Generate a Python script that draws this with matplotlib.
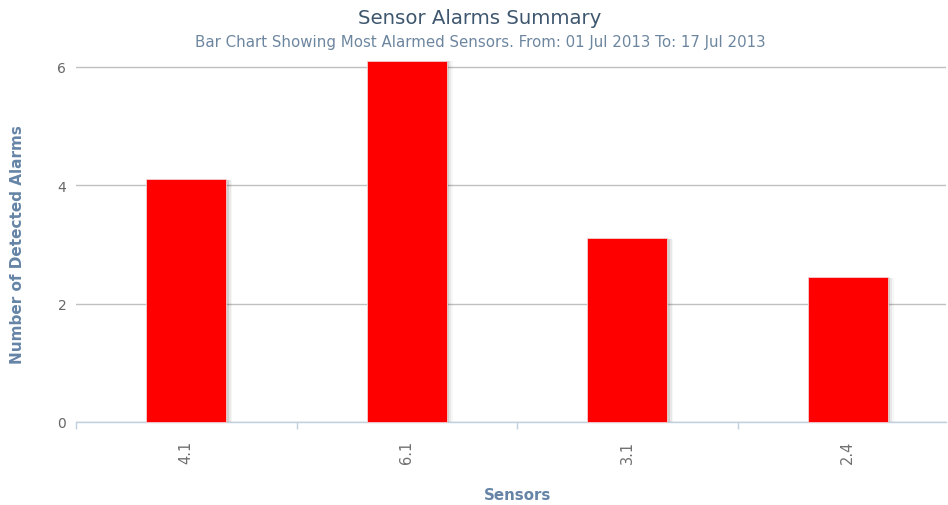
import matplotlib
matplotlib.use("Agg")
import matplotlib.pyplot as plt
import numpy as np

# data
sensors = ["4.1", "6.1", "3.1", "2.4"]
alarms = [4.1, 6.1, 3.1, 2.45]
y_ticks = [0, 2, 4, 6]

title = "Sensor Alarms Summary"
subtitle = "Bar Chart Showing Most Alarmed Sensors. From: 01 Jul 2013 To: 17 Jul 2013"

W, H = 948, 506
plt.rcParams["font.family"] = ["DejaVu Sans"]
fig = plt.figure(figsize=(W / 100, H / 100), dpi=100)

# plot area in pixels: left 76, right 946, top 60, bottom 423
left, right, top, bottom = 76, 946, 60, 423
ax = fig.add_axes([left / W, 1 - bottom / H, (right - left) / W, (bottom - top) / H])

unit = 59.2  # px per alarm
cat_w = 220.5  # px per category
x = np.arange(len(sensors))
bar_w = 80 / cat_w

# soft shadow behind bars
for dx, a in [(0.012, 0.10), (0.020, 0.06), (0.028, 0.03)]:
    ax.bar(x + dx, np.array(alarms) - 0.01, width=bar_w, bottom=0,
           color="black", alpha=a, linewidth=0, zorder=2, clip_on=False)
ax.bar(x, alarms, width=bar_w, color="#ff0000", edgecolor="#f3d0d0",
       linewidth=0.6, zorder=3, clip_on=False)

ax.set_yticks(y_ticks)
ax.set_yticklabels([str(v) for v in y_ticks])
ax.yaxis.grid(True, color="#c0c0c0", linewidth=1)
ax.set_axisbelow(True)
ax.tick_params(axis="y", length=0, pad=7, labelsize=10, labelcolor="#666666")

ax.set_xticks(x)
ax.set_xticklabels(sensors, rotation=90)
ax.tick_params(axis="x", length=0, pad=13, labelsize=10.5, labelcolor="#707070")
# category boundary ticks
ax.set_xticks(np.arange(len(sensors) + 1) - 0.5, minor=True)
ax.tick_params(axis="x", which="minor", length=5, color="#c0d0e0", width=1)

# limits after ticks so the tick setters don't widen the view
ax.set_xlim(-0.5, -0.5 + (right - left) / cat_w)
ax.set_ylim(0, (bottom - top) / unit)

for s in ["top", "right", "left"]:
    ax.spines[s].set_visible(False)
ax.spines["bottom"].set_color("#c0d0e0")
ax.spines["bottom"].set_linewidth(1)

fig.text(518 / W, 1 - 496 / H, "Sensors", ha="center", va="center",
         fontsize=10.8, fontweight="bold", color="#6584a6")
fig.text(18 / W, 1 - 245 / H, "Number of Detected Alarms", ha="center", va="center",
         rotation=90, fontsize=11, fontweight="bold", color="#6584a6")

fig.text(480 / W, 1 - 19 / H, title, ha="center", va="center", fontsize=14.2,
         color="#3e576f")
fig.text(480 / W, 1 - 42 / H, subtitle, ha="center", va="center", fontsize=10.8,
         color="#6d869f")

fig.savefig("out.png", dpi=100, facecolor="white")
